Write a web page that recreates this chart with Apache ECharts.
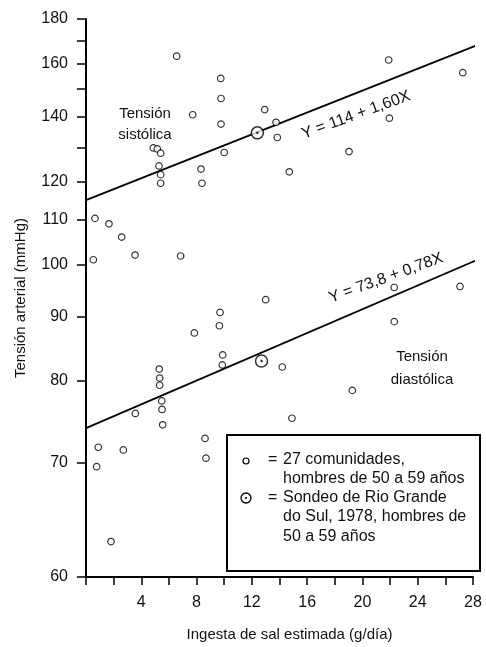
<!DOCTYPE html>
<html><head><meta charset="utf-8">
<script src="https://cdn.jsdelivr.net/npm/echarts@6/dist/echarts.min.js"></script>
<style>html,body{margin:0;padding:0;background:#fff}#c{width:486px;height:647px}</style>
</head><body><div id="c"></div>
<script>
// ---- data ----
const sysSalt = [0.53,0.65,1.66,2.58,3.55,4.87,5.16,5.28,5.40,5.40,5.40,6.56,7.72,8.32,8.39,9.75,9.77,9.77,10.0,12.93,13.75,13.84,14.71,19.03,21.9,21.95,27.26,28.27];
const sysBP   = [101.0,110.4,109.1,106.0,102.0,129.8,129.5,124.4,128.2,121.9,119.5,163.2,140.7,123.5,119.5,154.1,146.5,137.5,128.4,142.5,138.1,133.1,122.7,128.7,161.6,139.5,156.4,167.9];
const diaSalt = [0.77,0.89,1.81,2.70,3.57,5.30,5.33,5.33,5.48,5.50,5.55,6.85,7.84,8.61,8.68,9.65,9.70,9.86,9.89,13.0,14.2,14.9,19.27,22.3,22.3,27.06];
const diaBP   = [69.6,71.7,62.7,71.4,75.7,81.7,80.4,79.4,77.3,76.2,74.3,101.8,87.3,72.7,70.5,88.5,90.8,82.3,83.8,93.1,82.0,75.1,78.7,95.4,89.2,95.6];
const rgsSalt = [12.4, 12.7];           // Rio Grande do Sul survey (systolic, diastolic)
const rgsBP   = [134.6, 82.9];
const sysLineSalt = [0, 28.27];         // regression line ends as drawn
const sysLineBP   = [115.0, 167.9];
const diaLineSalt = [0, 28.15];
const diaLineBP   = [73.9, 100.8];
const yTicks  = [60,70,80,90,100,110,120,130,140,150,160,170,180];
const yLabels = [60,70,80,90,100,110,120,140,160,180];
const xTicks  = [0,2,4,6,8,10,12,14,16,18,20,22,24,26,28];
const xLabels = [4,8,12,16,20,24,28];

// the original's vertical scale is non-linear: position follows log(value - 39)
const OFFSET = 39;
const tv = v => v - OFFSET;
const pairs = (xs, ys) => xs.map((x, i) => [x, tv(ys[i])]);

const FONT = "'Liberation Sans', Arial, sans-serif";
const chart = echarts.init(document.getElementById('c'), null, {renderer: 'canvas'});
const dot = {color: '#fff', borderColor: '#000', borderWidth: 1.2};

chart.setOption({
  animation: false,
  backgroundColor: '#fff',
  grid: {left: 86, right: 13, top: 19, bottom: 68},
  xAxis: {
    type: 'value', min: 0, max: 28, interval: 2,
    name: 'Ingesta de sal estimada (g/día)', nameLocation: 'middle', nameGap: 50,
    nameTextStyle: {fontFamily: FONT, fontSize: 15, color: '#111', padding: [0, 0, 0, 20]},
    axisLine: {lineStyle: {color: '#000', width: 2}},
    axisTick: {show: true, length: 8, inside: false, lineStyle: {color: '#000', width: 1.5}, customValues: xTicks},
    axisLabel: {customValues: xLabels, margin: 18, fontFamily: FONT, fontSize: 16, color: '#111'},
    splitLine: {show: false}
  },
  yAxis: {
    type: 'log', min: tv(60), max: tv(180),
    name: 'Tensión arterial (mmHg)', nameLocation: 'middle', nameGap: 58,
    nameTextStyle: {fontFamily: FONT, fontSize: 15, color: '#111'},
    axisLine: {show: true, lineStyle: {color: '#000', width: 2}},
    axisTick: {show: true, length: 9, lineStyle: {color: '#000', width: 1.5}, customValues: yTicks.map(tv)},
    axisLabel: {customValues: yLabels.map(tv), margin: 18, fontFamily: FONT, fontSize: 16, color: '#111',
      formatter: v => String(Math.round(v + OFFSET))},
    splitLine: {show: false}, minorTick: {show: false}
  },
  series: [
    {type: 'line', data: pairs(sysLineSalt, sysLineBP), symbol: 'none', z: 1,
     lineStyle: {color: '#000', width: 1.8}},
    {type: 'line', data: pairs(diaLineSalt, diaLineBP), symbol: 'none', z: 1,
     lineStyle: {color: '#000', width: 1.8}},
    {type: 'scatter', data: pairs(sysSalt, sysBP), symbol: 'circle', symbolSize: 6.5, itemStyle: dot, z: 3},
    {type: 'scatter', data: pairs(diaSalt, diaBP), symbol: 'circle', symbolSize: 6.5, itemStyle: dot, z: 3},
    {type: 'scatter', data: pairs(rgsSalt, rgsBP), symbol: 'circle', symbolSize: 12,
     itemStyle: {color: '#fff', borderColor: '#000', borderWidth: 1.5}, z: 4},
    {type: 'scatter', data: pairs(rgsSalt, rgsBP), symbol: 'circle', symbolSize: 2.5,
     itemStyle: {color: '#000'}, z: 5}
  ],
  graphic: [
    {type: 'text', x: 145, y: 114, style: {text: 'Tensión', align: 'center', verticalAlign: 'middle', font: '15px ' + FONT, fill: '#111'}},
    {type: 'text', x: 145, y: 135, style: {text: 'sistólica', align: 'center', verticalAlign: 'middle', font: '15px ' + FONT, fill: '#111'}},
    {type: 'text', x: 422, y: 357, style: {text: 'Tensión', align: 'center', verticalAlign: 'middle', font: '15px ' + FONT, fill: '#111'}},
    {type: 'text', x: 422, y: 380, style: {text: 'diastólica', align: 'center', verticalAlign: 'middle', font: '15px ' + FONT, fill: '#111'}},
    {type: 'text', x: 356, y: 115, rotation: 20 * Math.PI / 180,
     style: {text: 'Y = 114 + 1,60X', align: 'center', verticalAlign: 'middle', font: '16px ' + FONT, fill: '#111'}},
    {type: 'text', x: 386, y: 278, rotation: 20 * Math.PI / 180,
     style: {text: 'Y = 73,8 + 0,78X', align: 'center', verticalAlign: 'middle', font: '16px ' + FONT, fill: '#111'}},
    {type: 'rect', shape: {x: 227, y: 435, width: 253, height: 136}, z: 10,
     style: {fill: '#fff', stroke: '#000', lineWidth: 2}},
    {type: 'circle', shape: {cx: 246, cy: 461, r: 3}, z: 11, style: {fill: '#fff', stroke: '#000', lineWidth: 1.2}},
    {type: 'text', x: 268, y: 460, z: 11, style: {text: '=', verticalAlign: 'middle', font: '16px ' + FONT, fill: '#111'}},
    {type: 'text', x: 283, y: 460, z: 11, style: {text: '27 comunidades,', verticalAlign: 'middle', font: '16px ' + FONT, fill: '#111'}},
    {type: 'text', x: 283, y: 479, z: 11, style: {text: 'hombres de 50 a 59 años', verticalAlign: 'middle', font: '16px ' + FONT, fill: '#111'}},
    {type: 'circle', shape: {cx: 246, cy: 498, r: 5}, z: 11, style: {fill: '#fff', stroke: '#000', lineWidth: 1.3}},
    {type: 'circle', shape: {cx: 246, cy: 498, r: 1.1}, z: 12, style: {fill: '#000'}},
    {type: 'text', x: 268, y: 498, z: 11, style: {text: '=', verticalAlign: 'middle', font: '16px ' + FONT, fill: '#111'}},
    {type: 'text', x: 283, y: 498, z: 11, style: {text: 'Sondeo de Rio Grande', verticalAlign: 'middle', font: '16px ' + FONT, fill: '#111'}},
    {type: 'text', x: 283, y: 517, z: 11, style: {text: 'do Sul, 1978, hombres de', verticalAlign: 'middle', font: '16px ' + FONT, fill: '#111'}},
    {type: 'text', x: 283, y: 537, z: 11, style: {text: '50 a 59 años', verticalAlign: 'middle', font: '16px ' + FONT, fill: '#111'}}
  ]
});
</script>
</body></html>
